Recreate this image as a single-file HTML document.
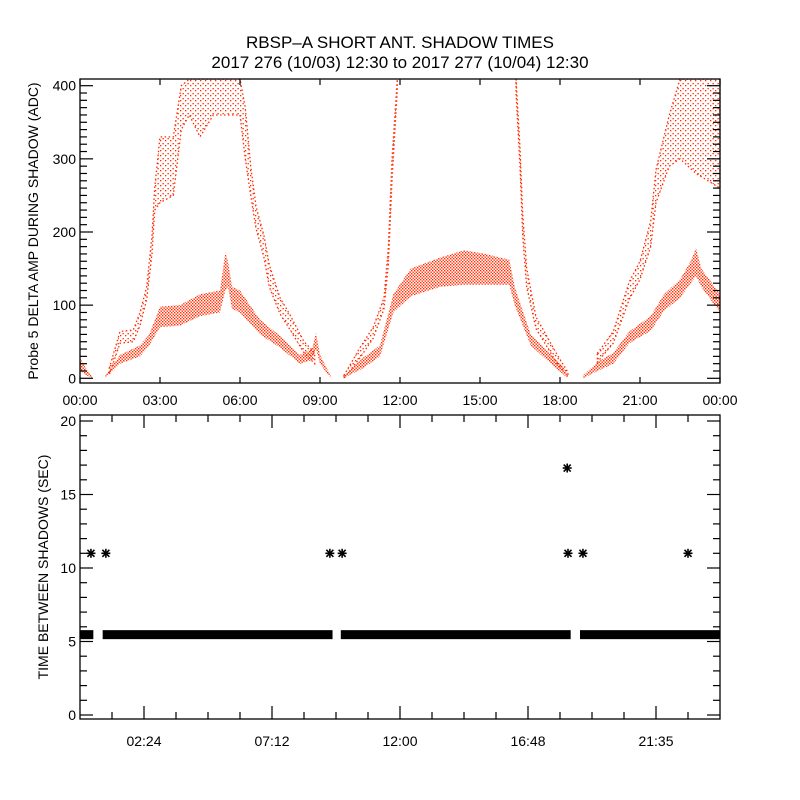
<!DOCTYPE html>
<html><head><meta charset="utf-8"><style>
html,body{margin:0;padding:0;background:#fff}
svg{display:block}
text{font-family:"Liberation Sans",sans-serif;fill:#000}
</style></head><body>
<svg id="chart" width="800" height="800" viewBox="0 0 800 800">
<defs>
<pattern id="dots" width="3" height="3" patternUnits="userSpaceOnUse"><rect x="0" y="0" width="1.4" height="1.4" fill="#ff2a00"/><rect x="1.5" y="1.5" width="1.4" height="1.4" fill="#ff2a00"/></pattern>
<pattern id="sparse" width="5" height="5" patternUnits="userSpaceOnUse"><rect x="0" y="0" width="1.3" height="1.3" fill="#ff2a00"/><rect x="2.5" y="3" width="1.3" height="1.3" fill="#ff2a00"/></pattern>
</defs>
<text x="400" y="48" font-size="17" text-anchor="middle">RBSP–A SHORT ANT. SHADOW TIMES</text>
<text x="400" y="68" font-size="17" text-anchor="middle">2017 276 (10/03) 12:30 to 2017 277 (10/04) 12:30</text>
<g id="topPanel"></g>
<g id="botPanel"></g>
<text transform="translate(38,231) rotate(-90)" font-size="14" text-anchor="middle">Probe 5 DELTA AMP DURING SHADOW (ADC)</text>
<text transform="translate(48,567) rotate(-90)" font-size="14" text-anchor="middle">TIME BETWEEN SHADOWS (SEC)</text>
</svg>
<script>
// ---- top panel data (hours, band low, band high) ----
const b1Hours=[0,0.2,0.45];
const b1Lo=[10,5,0];
const b1Hi=[28,15,2];
const lowHours=[0.94,1.5,2.25,2.6,3.0,3.75,4.5,5.25,5.45,5.55,5.7,6.0,6.75,7.5,8.25,8.7,8.85,9.0,9.4];
const lowLo=[0,20,30,45,70,72,85,90,120,125,95,90,60,42,20,25,40,20,0];
const lowHi=[3,32,45,60,98,100,115,120,172,160,125,120,80,58,32,40,62,32,3];
const upHours=[1.1,1.5,2.0,2.25,2.5,2.7,2.8,3.0,3.5,3.8,4.1,4.5,5.0,6.0,6.2,6.4,6.6,6.9,7.1,7.5,7.9,8.4,8.8];
const upLo=[5,48,50,72,108,170,230,240,250,340,360,330,360,360,300,250,205,165,125,88,65,35,20];
const upHi=[14,64,66,90,125,195,260,330,330,400,409,409,409,409,370,290,235,195,155,110,85,50,35];
const midHours=[9.87,10.62,11.25,11.75,12.4,13.5,14.4,15.2,16.1,16.3,16.9,17.5,18.1,18.3];
const midLo=[0,14,30,90,112,125,128,128,128,100,45,25,6,0];
const midHi=[3,28,45,115,150,165,175,170,162,125,60,38,16,3];
const riseHours=[9.9,10.5,11.0,11.4,11.56,11.7,11.9];
const riseLo=[0,28,55,95,155,270,395];
const riseHi=[4,42,70,110,178,300,409];
const fallHours=[16.35,16.5,16.6,16.75,17.1,17.9,18.3];
const fallLo=[390,290,195,125,68,20,2];
const fallHi=[409,315,225,150,84,32,8];
const lateLowHours=[18.87,19.4,20.0,20.6,21.4,21.9,22.5,22.9,23.1,23.3,23.6,24];
const lateLowLo=[0,10,20,48,65,92,110,130,140,125,110,90];
const lateLowHi=[4,22,35,64,85,115,135,160,178,150,135,115];
const lateUpHours=[19.4,20.0,20.6,21.0,21.4,21.6,22.1,22.5,23.1,24];
const lateUpLo=[22,48,108,135,180,240,290,300,280,260];
const lateUpHi=[34,64,132,160,215,285,360,409,409,409];
// ---- bottom panel data ----
const barStarts=[0,0.85,9.78,18.75];
const barEnds=[0.5,9.47,18.4,24];
const barValue=[5.5,5.5,5.5,5.5];
const starHours=[0.41,0.97,9.37,9.83,18.27,18.3,18.86,22.8];
const starValues=[11,11,11,11,16.8,11,11,11];
const topXTicks=['00:00','03:00','06:00','09:00','12:00','15:00','18:00','21:00','00:00'];
const topYTicks=[0,100,200,300,400];
const botXTicks=['02:24','07:12','12:00','16:48','21:35'];
const botYTicks=[0,5,10,15,20];

const NS='http://www.w3.org/2000/svg';
const L=80,R=720;
const xs=h=>L+(R-L)*h/24;
const TP={top:79,bot:383}, yT=v=>378.3-v*(292.6/400);
const BP={top:415,bot:719}, yB=v=>715-v*(294/20);
function mk(tag,attrs,parent){const e=document.createElementNS(NS,tag);for(const k in attrs)e.setAttribute(k,attrs[k]);parent.appendChild(e);return e;}
const topG=document.getElementById('topPanel'), botG=document.getElementById('botPanel');

function band(hours,lo,hi,fill,name,stroked){
  const pts=[];
  for(let i=0;i<hours.length;i++)pts.push(xs(hours[i]).toFixed(1)+','+yT(Math.min(hi[i],409)).toFixed(1));
  for(let i=hours.length-1;i>=0;i--)pts.push(xs(hours[i]).toFixed(1)+','+yT(lo[i]).toFixed(1));
  const a={points:pts.join(' '),fill:fill};
  if(stroked){a.stroke='#ff2a00';a['stroke-width']=1.3;a['stroke-dasharray']='1.5 2.5';}
  const p=mk('polygon',a,topG);
  
  
}
band(b1Hours,b1Lo,b1Hi,'url(#dots)','band-start',false);
band(lowHours,lowLo,lowHi,'url(#dots)','band-lower-1',false);
band(upHours,upLo,upHi,'url(#sparse)','band-upper-1',true);
band(midHours,midLo,midHi,'url(#dots)','band-lower-2',false);
band(riseHours,riseLo,riseHi,'url(#sparse)','band-rise-2',true);
band(fallHours,fallLo,fallHi,'url(#sparse)','band-fall-2',true);
band(lateLowHours,lateLowLo,lateLowHi,'url(#dots)','band-lower-3',false);
band(lateUpHours,lateUpLo,lateUpHi,'url(#sparse)','band-upper-3',true);

function frame(g,P,name){const r=mk('rect',{x:L,y:P.top,width:R-L,height:P.bot-P.top,fill:'none',stroke:'#000','stroke-width':1.3},g);
  
  }
function line(g,x1,y1,x2,y2,w){return mk('line',{x1:x1,y1:y1,x2:x2,y2:y2,stroke:'#000','stroke-width':w||1.2},g);}
function label(g,x,y,t,anchor,name){const e=mk('text',{x:x,y:y,'font-size':14,'text-anchor':anchor},g);e.textContent=t;
  
  }

// top axes
frame(topG,TP,'top-plot-frame');
topXTicks.forEach((t,i)=>{const x=xs(i*3);line(topG,x,TP.bot,x,TP.bot-6);line(topG,x,TP.top,x,TP.top+6);label(topG,x,TP.bot+22,t,'middle','top-x-tick-label');});
for(let v=0;v<=400;v+=10){const y=yT(v);const len=v%100===0?13:7;line(topG,L,y,L+len,y);line(topG,R,y,R-len,y);}
topYTicks.forEach(v=>label(topG,L-4,yT(v)+5,String(v),'end','top-y-tick-label'));

// bottom axes
frame(botG,BP,'bottom-plot-frame');
for(let k=1;k<20;k++){const x=xs(k*1.2);const len=k%4===2?13:7;line(botG,x,BP.bot,x,BP.bot-len);line(botG,x,BP.top,x,BP.top+len);}
botXTicks.forEach((t,i)=>label(botG,xs(2.4+i*4.8),BP.bot+27,t,'middle','bottom-x-tick-label'));
for(let v=0;v<=20;v++){const y=yB(v);const len=v%5===0?13:7;line(botG,L,y,L+len,y);line(botG,R,y,R-len,y);}
botYTicks.forEach(v=>label(botG,L-4,yB(v)+5,String(v),'end','bottom-y-tick-label'));

for(let i=0;i<barStarts.length;i++){
  const r=mk('rect',{x:xs(barStarts[i]),y:yB(barValue[i])-4,width:xs(barEnds[i])-xs(barStarts[i]),height:9,fill:'#000'},botG);
  
  
}
for(let i=0;i<starHours.length;i++){
  const cx=xs(starHours[i]), cy=yB(starValues[i]);
  const g=mk('g',{stroke:'#000','stroke-width':1.6},botG);
  
  
  mk('line',{x1:cx-4.5,y1:cy,x2:cx+4.5,y2:cy},g);
  mk('line',{x1:cx,y1:cy-4.5,x2:cx,y2:cy+4.5},g);
  mk('line',{x1:cx-3.5,y1:cy-3.5,x2:cx+3.5,y2:cy+3.5},g);
  mk('line',{x1:cx-3.5,y1:cy+3.5,x2:cx+3.5,y2:cy-3.5},g);
}
</script>
</body></html>
